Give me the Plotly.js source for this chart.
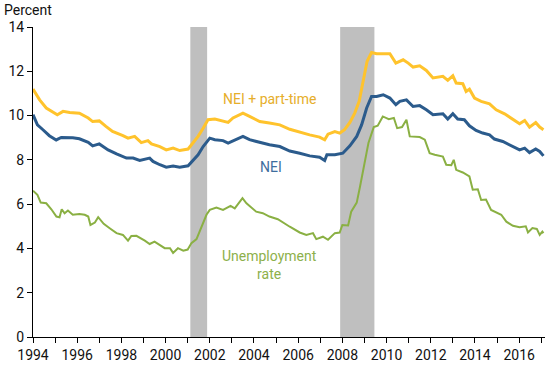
<!DOCTYPE html>
<html>
<head>
<meta charset="utf-8">
<script src="https://cdn.plot.ly/plotly-3.0.1.min.js"></script>
<style>html,body{margin:0;padding:0;background:#fff;}#chart{width:550px;height:365px;}</style>
</head>
<body>
<div id="chart"></div>
<script>
// NEI + part-time (percent)
var neiPtDates = [1994.0,1994.3,1994.6,1994.9,1995.1,1995.36,1995.66,1996.1,1996.5,1996.7,1997.0,1997.3,1997.6,1998.07,1998.3,1998.6,1998.9,1999.2,1999.36,1999.74,2000.03,2000.34,2000.64,2001.02,2001.24,2001.47,2001.7,2001.92,2002.23,2002.53,2002.83,2003.05,2003.5,2003.8,2004.26,2004.7,2005.17,2005.62,2006.07,2006.52,2006.97,2007.2,2007.35,2007.66,2007.88,2008.1,2008.34,2008.56,2008.76,2008.94,2009.12,2009.32,2009.55,2009.85,2010.15,2010.42,2010.75,2010.98,2011.2,2011.5,2011.8,2012.1,2012.55,2012.77,2013.0,2013.15,2013.45,2013.6,2013.75,2013.98,2014.28,2014.66,2014.96,2015.34,2015.72,2016.02,2016.25,2016.47,2016.75,2016.93,2017.1];
var neiPtValues = [11.2,10.71,10.34,10.14,10.04,10.19,10.14,10.11,9.89,9.73,9.76,9.51,9.28,9.09,8.98,9.06,8.78,8.87,8.72,8.6,8.45,8.53,8.42,8.49,8.76,9.06,9.43,9.81,9.84,9.78,9.69,9.89,10.11,9.96,9.73,9.66,9.58,9.38,9.24,9.13,9.03,8.91,9.16,9.28,9.21,9.36,9.69,10.11,10.64,11.62,12.45,12.85,12.79,12.79,12.79,12.37,12.52,12.37,12.19,12.25,12.04,11.7,11.77,11.59,11.8,11.47,11.44,11.09,11.19,10.79,10.64,10.53,10.26,10.08,9.81,9.63,9.78,9.48,9.69,9.48,9.36];

// NEI (percent)
var neiDates = [1994.0,1994.2,1994.45,1994.74,1995.05,1995.28,1995.8,1996.1,1996.5,1996.7,1997.0,1997.4,1997.78,1998.23,1998.53,1998.83,1999.28,1999.43,1999.74,2000.03,2000.34,2000.64,2001.02,2001.24,2001.47,2001.7,2002.0,2002.23,2002.6,2002.83,2003.13,2003.5,2003.8,2004.26,2004.7,2005.17,2005.62,2006.07,2006.52,2006.97,2007.2,2007.3,2007.66,2008.02,2008.34,2008.65,2008.87,2009.1,2009.32,2009.55,2009.85,2010.15,2010.42,2010.6,2010.9,2011.2,2011.5,2011.8,2012.1,2012.55,2012.77,2013.0,2013.22,2013.52,2013.75,2014.05,2014.35,2014.66,2014.88,2015.26,2015.64,2016.02,2016.25,2016.47,2016.75,2016.93,2017.1];
var neiValues = [10.04,9.58,9.36,9.09,8.9,9.01,9.0,8.95,8.79,8.63,8.72,8.45,8.27,8.08,8.08,7.97,8.08,7.93,7.78,7.67,7.72,7.67,7.73,8.0,8.23,8.6,8.98,8.91,8.87,8.76,8.91,9.06,8.91,8.79,8.68,8.6,8.4,8.3,8.18,8.12,7.97,8.23,8.23,8.3,8.63,9.06,9.58,10.34,10.86,10.86,10.94,10.79,10.49,10.64,10.71,10.41,10.45,10.26,10.04,10.08,9.84,10.08,9.84,9.81,9.54,9.33,9.21,9.13,8.94,8.83,8.63,8.45,8.53,8.33,8.49,8.38,8.18];

// Unemployment rate (percent)
var urDates = [1994.0,1994.2,1994.35,1994.6,1994.83,1995.06,1995.2,1995.3,1995.43,1995.58,1995.8,1996.1,1996.34,1996.5,1996.6,1996.8,1996.95,1997.2,1997.47,1997.78,1998.07,1998.3,1998.45,1998.68,1999.06,1999.28,1999.5,1999.74,1999.96,2000.2,2000.34,2000.56,2000.8,2001.0,2001.17,2001.4,2001.62,2001.85,2002.0,2002.3,2002.6,2002.94,2003.13,2003.48,2003.66,2003.9,2004.1,2004.4,2004.7,2005.08,2005.4,2005.62,2006.07,2006.37,2006.67,2006.82,2007.12,2007.35,2007.66,2007.88,2008.0,2008.26,2008.4,2008.65,2008.8,2008.98,2009.18,2009.42,2009.6,2009.83,2010.1,2010.33,2010.48,2010.7,2010.9,2011.05,2011.3,2011.5,2011.73,2011.95,2012.18,2012.55,2012.7,2012.93,2013.04,2013.15,2013.45,2013.75,2013.9,2014.13,2014.28,2014.5,2014.73,2014.96,2015.19,2015.42,2015.72,2016.02,2016.3,2016.4,2016.6,2016.8,2016.93,2017.05,2017.1];
var urValues = [6.61,6.42,6.07,6.04,5.77,5.44,5.41,5.77,5.59,5.71,5.52,5.56,5.52,5.44,5.06,5.17,5.41,5.11,4.91,4.69,4.61,4.35,4.56,4.57,4.35,4.2,4.31,4.16,4.01,4.01,3.8,4.01,3.9,3.95,4.24,4.42,4.99,5.52,5.74,5.85,5.74,5.92,5.81,6.27,6.04,5.82,5.66,5.59,5.44,5.32,5.14,4.98,4.72,4.61,4.69,4.42,4.53,4.39,4.69,4.72,5.06,5.04,5.66,6.07,6.8,7.7,8.76,9.48,9.54,9.96,9.84,9.89,9.43,9.48,9.81,9.06,9.06,9.03,8.91,8.3,8.23,8.15,7.78,7.76,8.0,7.55,7.43,7.25,6.65,6.67,6.19,6.21,5.74,5.62,5.52,5.21,5.02,4.96,5.0,4.72,4.92,4.88,4.61,4.76,4.69];

// Recessions (start, end)
var recessionStarts = [2001.12, 2007.9];
var recessionEnds = [2001.88, 2009.45];

var seriesNames = ['NEI + part-time', 'NEI', 'Unemployment rate'];

var traces = [
  {x: urDates, y: urValues, name: seriesNames[2], type: 'scatter', mode: 'lines',
   line: {color: '#8AB043', width: 2}},
  {x: neiDates, y: neiValues, name: seriesNames[1], type: 'scatter', mode: 'lines',
   line: {color: '#2B5B8C', width: 3}},
  {x: neiPtDates, y: neiPtValues, name: seriesNames[0], type: 'scatter', mode: 'lines',
   line: {color: '#FFC32C', width: 3}}
];

var shapes = recessionStarts.map(function (s, i) {
  return {type: 'rect', xref: 'x', yref: 'y', x0: s, x1: recessionEnds[i], y0: 0, y1: 14,
          fillcolor: '#BFBFBF', line: {width: 0}, layer: 'below'};
});

var fontFam = 'Roboto, Arial, sans-serif';
var layout = {
  width: 550, height: 365,
  margin: {l: 33, r: 5, t: 27, b: 28},
  paper_bgcolor: '#fff', plot_bgcolor: '#fff',
  showlegend: false,
  font: {family: fontFam, size: 14, color: '#111'},
  xaxis: {
    range: [1994, 2017.17], tick0: 1994, dtick: 2, ticks: 'outside', ticklen: 5,
    tickcolor: '#000', tickwidth: 1, showline: true, linecolor: '#000', linewidth: 1,
    showgrid: false, zeroline: false, tickfont: {size: 14, color: '#111'},
    minor: {dtick: 1, ticks: 'outside', ticklen: 5, tickcolor: '#000', tickwidth: 1, showgrid: false}
  },
  yaxis: {
    range: [0, 14], dtick: 2, ticks: 'outside', ticklen: 5, tickcolor: '#000', tickwidth: 1,
    showline: true, linecolor: '#000', linewidth: 1, showgrid: false, zeroline: false,
    tickfont: {size: 14, color: '#111'}
  },
  shapes: shapes,
  annotations: [
    {xref: 'paper', yref: 'paper', x: -31/512, y: (337 - 10) / 310, xanchor: 'left', yanchor: 'middle',
     text: 'Percent', showarrow: false, font: {size: 14, color: '#111'}},
    {xref: 'x', yref: 'y', x: 2004.72, y: 10.76, text: seriesNames[0], showarrow: false,
     xanchor: 'center', yanchor: 'middle', font: {size: 14, color: '#E6AE2A'}},
    {xref: 'x', yref: 'y', x: 2004.76, y: 7.69, text: seriesNames[1], showarrow: false,
     xanchor: 'center', yanchor: 'middle', font: {size: 14, color: '#3E6D9E'}},
    {xref: 'x', yref: 'y', x: 2004.72, y: 3.23, text: 'Unemployment<br>rate', showarrow: false,
     xanchor: 'center', yanchor: 'middle', font: {size: 14, color: '#8DB04A'}}
  ]
};

Plotly.newPlot('chart', traces, layout, {staticPlot: true, displayModeBar: false});
</script>
</body>
</html>
